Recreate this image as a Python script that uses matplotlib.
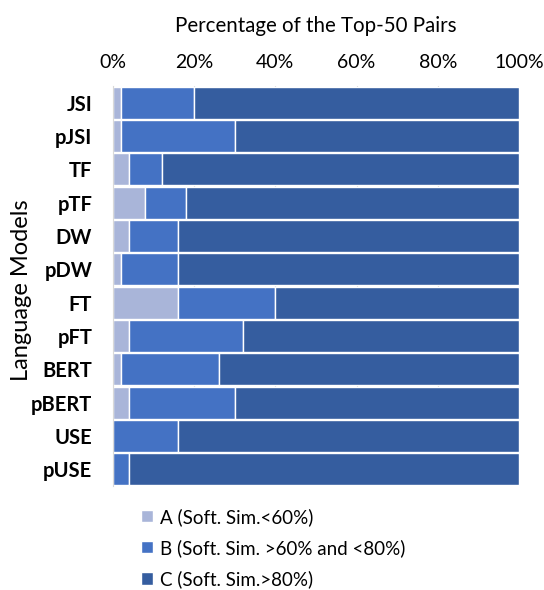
import matplotlib
matplotlib.use("Agg")
import matplotlib.pyplot as plt
import numpy as np

models = ["JSI", "pJSI", "TF", "pTF", "DW", "pDW", "FT", "pFT", "BERT", "pBERT", "USE", "pUSE"]
group_a = [2, 2, 4, 8, 4, 2, 16, 4, 2, 4, 0, 0]
group_b = [18, 28, 8, 10, 12, 14, 24, 28, 24, 26, 16, 4]
group_c = [80, 70, 88, 82, 84, 84, 60, 68, 74, 70, 84, 96]
series_labels = ["A (Soft. Sim.<60%)", "B (Soft. Sim. >60% and <80%)", "C (Soft. Sim.>80%)"]
tick_values = [0, 20, 40, 60, 80, 100]

colors = ["#A9B5D9", "#4472C4", "#355D9F"]
plt.rcParams["font.family"] = ["Lato", "DejaVu Sans"]

fig = plt.figure(figsize=(5.44, 5.90), dpi=100)
ax = fig.add_axes([113 / 544, 1 - 486 / 590, 406 / 544, 400 / 590])

y = np.arange(len(models))
left = np.zeros(len(models))
for vals, col, lab in zip([group_a, group_b, group_c], colors, series_labels):
    ax.barh(y, vals, left=left, height=0.96, color=col, edgecolor="white",
            linewidth=1.0, label=lab, zorder=2)
    left += np.array(vals)

ax.set_xlim(0, 100)
ax.set_ylim(len(models) - 0.5, -0.5)
ax.set_yticks(y)
ax.set_yticklabels(models, fontsize=14.5, fontweight="bold")
ax.set_xticks(tick_values)
ax.set_xticklabels([f"{v}%" for v in tick_values], fontsize=14)
ax.xaxis.tick_top()
ax.xaxis.set_label_position("top")
ax.tick_params(axis="y", length=0, pad=15)
ax.tick_params(axis="x", length=0, pad=11)
ax.set_xlabel("Percentage of the Top-50 Pairs", fontsize=14.8, labelpad=16)
ax.set_ylabel("Language Models", fontsize=17)
ax.yaxis.set_label_coords(-0.2, 0.49)

ax.grid(axis="x", color="#D9D9D9", linewidth=0.8, zorder=0)
for side in ["top", "right", "bottom"]:
    ax.spines[side].set_visible(False)
ax.spines["left"].set_color("#D9D9D9")

fig.legend(loc="upper left", bbox_to_anchor=(124 / 544, 1 - 491 / 590),
           frameon=False, fontsize=13.5, handlelength=0.65, handleheight=0.65,
           handletextpad=0.35, labelspacing=0.7)

fig.savefig("out.png", dpi=100)
